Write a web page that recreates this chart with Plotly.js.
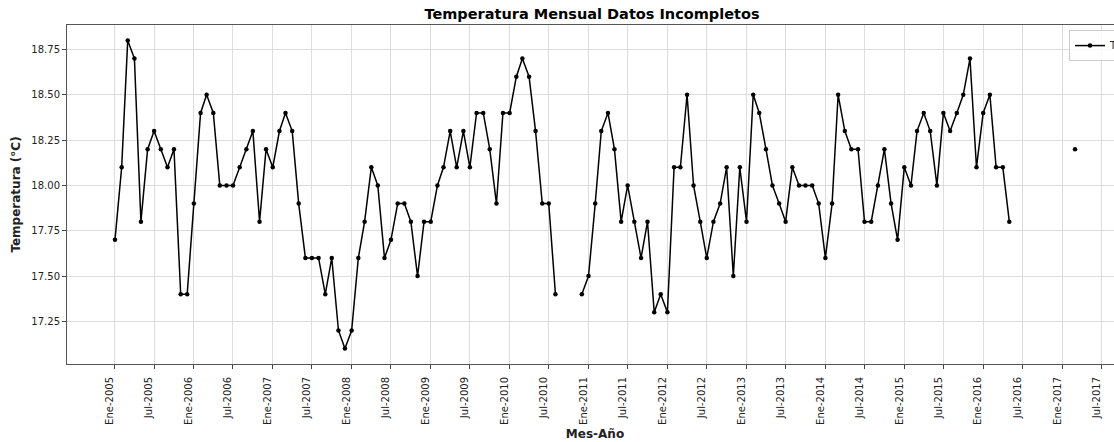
<!DOCTYPE html>
<html>
<head>
<meta charset="utf-8">
<script src="https://cdn.plot.ly/plotly-3.0.1.min.js"></script>
<style>
  html, body { margin: 0; padding: 0; overflow: hidden; background: #fff; }
  #chart { width: 1150px; height: 442px; }
</style>
</head>
<body>
<div id="chart"></div>
<script>
// Monthly temperature (°C), Jan..Dec for each year; null = missing month
const startYear = 2005;
const t2005 = [17.7, 18.1, 18.8, 18.7, 17.8, 18.2, 18.3, 18.2, 18.1, 18.2, 17.4, 17.4];
const t2006 = [17.9, 18.4, 18.5, 18.4, 18.0, 18.0, 18.0, 18.1, 18.2, 18.3, 17.8, 18.2];
const t2007 = [18.1, 18.3, 18.4, 18.3, 17.9, 17.6, 17.6, 17.6, 17.4, 17.6, 17.2, 17.1];
const t2008 = [17.2, 17.6, 17.8, 18.1, 18.0, 17.6, 17.7, 17.9, 17.9, 17.8, 17.5, 17.8];
const t2009 = [17.8, 18.0, 18.1, 18.3, 18.1, 18.3, 18.1, 18.4, 18.4, 18.2, 17.9, 18.4];
const t2010 = [18.4, 18.6, 18.7, 18.6, 18.3, 17.9, 17.9, 17.4, null, null, null, 17.4];
const t2011 = [17.5, 17.9, 18.3, 18.4, 18.2, 17.8, 18.0, 17.8, 17.6, 17.8, 17.3, 17.4];
const t2012 = [17.3, 18.1, 18.1, 18.5, 18.0, 17.8, 17.6, 17.8, 17.9, 18.1, 17.5, 18.1];
const t2013 = [17.8, 18.5, 18.4, 18.2, 18.0, 17.9, 17.8, 18.1, 18.0, 18.0, 18.0, 17.9];
const t2014 = [17.6, 17.9, 18.5, 18.3, 18.2, 18.2, 17.8, 17.8, 18.0, 18.2, 17.9, 17.7];
const t2015 = [18.1, 18.0, 18.3, 18.4, 18.3, 18.0, 18.4, 18.3, 18.4, 18.5, 18.7, 18.1];
const t2016 = [18.4, 18.5, 18.1, 18.1, 17.8, null, null, null, null, null, null, null];
const t2017 = [null, null, 18.2];

const years = [t2005, t2006, t2007, t2008, t2009, t2010, t2011, t2012, t2013, t2014, t2015, t2016, t2017];

// Tick labels (every 6 months)
const tickYears = [2005, 2006, 2007, 2008, 2009, 2010, 2011, 2012, 2013, 2014, 2015, 2016, 2017];
const tickMonthNames = ['Ene', 'Jul'];
const tickMonthNums = ['01', '07'];

const dates = [];
const temps = [];
years.forEach((arr, i) => {
  arr.forEach((v, m) => {
    const mm = String(m + 1).padStart(2, '0');
    dates.push((startYear + i) + '-' + mm + '-01');
    temps.push(v);
  });
});

const tickvals = [];
const ticktext = [];
tickYears.forEach(y => {
  tickMonthNums.forEach((mm, k) => {
    tickvals.push(y + '-' + mm + '-01');
    ticktext.push(tickMonthNames[k] + '-' + y);
  });
});

const font = 'DejaVu Sans, sans-serif';

const trace = {
  x: dates,
  y: temps,
  type: 'scatter',
  mode: 'lines+markers',
  name: 'T',
  connectgaps: false,
  line: { color: '#000000', width: 1.5 },
  marker: { color: '#000000', size: 4.5 }
};

const layout = {
  width: 1150,
  height: 442,
  margin: { l: 67, r: 27, t: 25, b: 78 },
  paper_bgcolor: '#ffffff',
  plot_bgcolor: '#ffffff',
  font: { family: font, color: '#222222', size: 10 },
  title: {
    text: '<b>Temperatura Mensual Datos Incompletos</b>',
    font: { family: font, size: 14.5, color: '#000000' },
    xref: 'container', x: 592 / 1150, xanchor: 'center',
    yref: 'container', y: 1 - 14 / 442, yanchor: 'middle'
  },
  showlegend: true,
  legend: {
    x: 0.9489, xanchor: 'left',
    y: 0.985, yanchor: 'top',
    bgcolor: 'rgba(255,255,255,0.8)',
    bordercolor: '#cccccc',
    borderwidth: 1,
    font: { family: font, size: 10, color: '#222222' },
    itemwidth: 30
  },
  xaxis: {
    type: 'date',
    range: ['2004-05-24', '2017-10-09'],
    tickmode: 'array',
    tickvals: tickvals,
    ticktext: ticktext,
    tickangle: -90,
    ticklabelshift: -5,
    ticklabelstandoff: 4,
    ticks: 'outside',
    ticklen: 4,
    tickwidth: 1,
    tickcolor: '#444444',
    tickfont: { family: font, size: 10, color: '#222222' },
    showgrid: true,
    gridcolor: '#dcdcdc',
    gridwidth: 1,
    showline: true,
    linecolor: '#555555',
    linewidth: 1,
    mirror: true,
    zeroline: false,
    title: {
      text: '<b>Mes-Año</b>',
      font: { family: font, size: 12, color: '#222222' },
      standoff: 5
    }
  },
  yaxis: {
    range: [17.015, 18.885],
    tick0: 0,
    dtick: 0.25,
    tickformat: '.2f',
    ticks: 'outside',
    ticklen: 4,
    tickwidth: 1,
    tickcolor: '#444444',
    tickfont: { family: font, size: 10, color: '#222222' },
    showgrid: true,
    gridcolor: '#dcdcdc',
    gridwidth: 1,
    showline: true,
    linecolor: '#555555',
    linewidth: 1,
    mirror: true,
    zeroline: false,
    title: {
      text: '<b>Temperatura (°C)</b>',
      font: { family: font, size: 12, color: '#222222' },
      standoff: 8
    }
  }
};

Plotly.newPlot('chart', [trace], layout, { displayModeBar: false, staticPlot: true });
</script>
</body>
</html>
